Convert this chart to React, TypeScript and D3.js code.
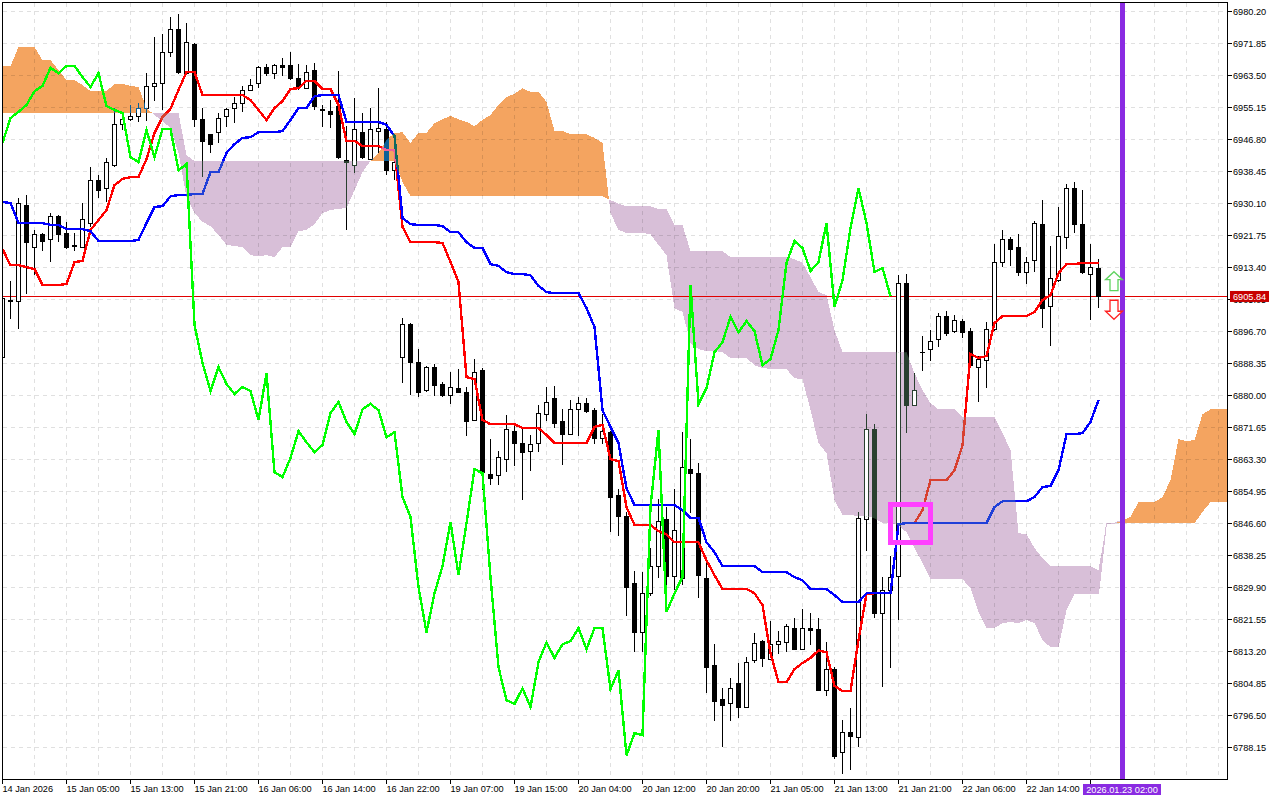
import * as d3 from "d3";
import React from "react";

const opens = [
  6890.0,6904.8,6904.6,6929.7,6918.7,6922.1,6920.8,6926.8,6922.4,6919.1,
  6918.7,6925.0,6936.2,6934.1,6939.9,6950.6,6951.9,6952.7,6954.8,6960.5,
  6961.3,6969.4,6975.4,6964.1,6971.7,6952.1,6948.0,6948.5,6952.7,6955.0,
  6956.1,6959.7,6961.3,6965.7,6964.1,6966.2,6966.2,6962.6,6960.2,6964.7,
  6954.7,6954.2,6955.3,6941.4,6940.1,6948.7,6941.7,6949.0,6949.3,6938.6,
  6890.0,6898.4,6888.5,6881.2,6887.4,6883.0,6880.1,6881.9,6880.9,6873.5,
  6886.4,6859.5,6859.0,6863.4,6870.7,6867.6,6865.5,6867.6,6875.1,6879.3,
  6873.3,6869.9,6876.4,6877.8,6876.2,6868.9,6870.4,6854.0,6848.3,6831.0,
  6818.2,6828.4,6835.5,6847.7,6832.9,6832.3,6860.8,6859.7,6832.3,6809.6,
  6800.7,6799.7,6804.9,6798.7,6810.9,6815.9,6811.2,6814.9,6815.6,6819.3,
  6813.8,6819.3,6819.0,6803.1,6808.6,6786.9,6792.1,6790.8,6847.7,6871.2,
  6823.2,6829.0,6832.9,6909.3,6877.5,6891.3,6891.9,6894.5,6900.7,6896.8,
  6899.4,6896.8,6887.4,6889.2,6897.1,6914.8,6920.8,6918.7,6912.0,6915.1,
  6924.7,6903.3,6909.9,6921.3,6933.9,6924.5,6911.7,6913.2,
];
const highs = [
  6905.7,6909.9,6931.5,6932.3,6923.2,6922.3,6927.6,6927.1,6925.3,6922.4,
  6930.2,6939.6,6937.5,6942.0,6955.0,6953.7,6955.8,6956.3,6964.1,6973.5,
  6974.3,6978.8,6979.5,6977.2,6971.9,6955.0,6948.2,6953.7,6955.0,6957.9,
  6960.8,6962.6,6966.0,6966.5,6966.5,6968.1,6969.6,6966.5,6966.2,6966.8,
  6955.8,6957.1,6964.7,6950.3,6957.6,6953.7,6955.0,6960.2,6951.4,6944.0,
  6900.2,6898.9,6892.1,6887.7,6888.2,6883.5,6886.1,6886.9,6882.2,6889.5,
  6887.2,6868.6,6865.5,6874.9,6872.8,6871.5,6869.7,6877.5,6882.2,6882.4,
  6876.4,6878.8,6879.6,6879.3,6876.7,6875.1,6870.7,6855.6,6849.6,6834.2,
  6833.9,6840.2,6853.0,6850.9,6855.6,6870.4,6868.6,6862.4,6836.5,6815.1,
  6803.6,6806.2,6810.2,6811.7,6818.0,6816.2,6821.1,6818.5,6820.3,6821.9,
  6824.2,6823.2,6821.9,6815.6,6809.1,6795.3,6798.4,6849.6,6875.1,6872.5,
  6832.6,6838.1,6911.4,6911.7,6885.8,6895.5,6897.1,6901.5,6902.0,6901.0,
  6899.9,6897.6,6890.3,6899.2,6919.5,6923.2,6921.3,6922.1,6916.1,6925.5,
  6931.0,6919.0,6929.2,6935.2,6935.7,6933.6,6919.5,6915.6,
];
const lows = [
  6889.8,6899.9,6897.3,6906.5,6911.4,6917.7,6914.8,6920.0,6918.2,6917.7,
  6918.5,6924.0,6931.5,6930.5,6939.6,6949.3,6951.7,6951.4,6951.6,6956.8,
  6954.5,6968.3,6963.9,6963.9,6950.1,6937.0,6943.3,6945.9,6950.1,6951.1,
  6954.0,6959.5,6960.2,6963.4,6962.6,6963.4,6962.4,6959.7,6960.0,6954.5,
  6950.1,6949.8,6941.7,6923.2,6938.0,6941.7,6941.5,6943.3,6937.5,6936.2,
  6883.2,6880.1,6879.6,6881.0,6879.8,6879.6,6877.8,6880.6,6869.4,6873.3,
  6855.3,6856.6,6856.6,6860.0,6861.6,6852.7,6860.3,6865.2,6873.3,6871.5,
  6861.8,6869.7,6869.4,6875.4,6867.3,6867.3,6844.3,6843.3,6822.4,6813.0,
  6813.0,6827.6,6832.3,6829.2,6829.2,6830.5,6849.3,6827.1,6802.3,6795.0,
  6788.2,6795.0,6795.8,6798.5,6810.2,6809.1,6811.0,6812.5,6813.0,6813.5,
  6813.5,6814.9,6802.9,6801.5,6785.1,6781.2,6782.2,6788.2,6839.4,6821.9,
  6803.9,6808.8,6821.4,6870.2,6877.3,6886.4,6889.0,6892.6,6895.5,6896.3,
  6895.0,6887.2,6878.3,6881.9,6896.9,6913.5,6913.8,6911.2,6909.1,6912.2,
  6897.6,6892.9,6909.7,6918.2,6922.4,6911.7,6899.7,6902.8,
];
const closes = [
  6905.2,6904.5,6930.0,6919.8,6922.1,6920.3,6926.6,6922.1,6918.7,6918.9,
  6925.8,6936.0,6933.6,6940.7,6950.8,6951.9,6952.9,6955.0,6960.5,6961.5,
  6969.6,6975.6,6964.4,6972.0,6952.1,6946.4,6945.6,6952.4,6954.5,6956.1,
  6959.7,6961.0,6965.7,6963.9,6966.2,6965.7,6962.6,6960.5,6964.4,6955.5,
  6954.3,6953.4,6942.0,6940.7,6949.5,6942.0,6949.5,6949.8,6938.6,6940.7,
  6898.6,6888.5,6880.9,6887.4,6882.7,6880.1,6882.2,6880.9,6873.3,6886.1,
  6860.0,6858.4,6863.7,6871.0,6867.6,6865.0,6867.1,6875.4,6878.3,6872.8,
  6869.7,6876.4,6878.0,6875.9,6868.9,6870.7,6853.5,6848.3,6830.0,6818.2,
  6828.4,6835.5,6847.0,6832.9,6844.9,6861.1,6859.7,6833.1,6809.1,6800.2,
  6799.2,6803.6,6798.7,6810.4,6815.4,6811.5,6815.1,6815.9,6819.6,6813.8,
  6819.3,6818.8,6803.1,6808.6,6785.9,6792.1,6791.1,6848.0,6871.2,6823.2,
  6829.0,6832.6,6909.1,6877.5,6881.4,6891.1,6894.2,6900.5,6896.3,6899.7,
  6896.5,6887.7,6889.5,6897.3,6914.6,6920.6,6918.2,6912.2,6914.8,6925.0,
  6902.8,6910.4,6921.6,6934.1,6924.5,6912.0,6913.5,6905.84,
];

const tenkan = [
  6918.2,6914.0,6914.0,6913.5,6913.0,6908.8,6908.8,6908.8,6909.1,6914.8,
  6915.1,6923.2,6925.8,6928.4,6934.9,6936.5,6937.0,6937.0,6941.7,6948.5,
  6952.7,6954.8,6959.7,6964.4,6964.4,6958.4,6958.4,6958.4,6958.4,6958.4,
  6958.4,6957.1,6954.5,6951.9,6955.0,6956.8,6960.0,6960.2,6962.1,6962.1,
  6960.0,6960.0,6955.8,6946.4,6946.4,6945.1,6945.1,6945.1,6944.0,6944.0,
  6924.0,6920.0,6920.0,6920.0,6920.0,6919.8,6914.8,6909.6,6884.8,6884.3,
  6873.6,6872.5,6872.5,6872.5,6872.5,6871.5,6871.5,6871.5,6869.7,6867.6,
  6867.6,6867.6,6867.6,6867.6,6871.8,6872.3,6863.4,6862.9,6850.9,6846.2,
  6846.2,6846.2,6844.6,6843.8,6841.7,6841.7,6841.7,6841.7,6837.0,6833.1,
  6829.5,6829.5,6829.5,6829.5,6828.4,6825.3,6812.8,6805.2,6805.2,6808.6,
  6810.2,6811.5,6813.5,6813.0,6804.2,6802.9,6802.9,6816.2,6828.2,6828.4,
  6828.4,6828.4,6846.4,6846.7,6846.7,6850.1,6857.9,6857.9,6857.9,6860.5,
  6867.0,6890.8,6889.8,6890.3,6898.9,6900.7,6900.7,6900.7,6900.7,6901.8,
  6904.9,6906.2,6911.9,6914.3,6914.3,6914.6,6914.6,6914.6,
];
const kijun = [
  6930.5,6930.2,6925.0,6925.0,6925.0,6925.0,6924.5,6924.5,6923.4,6923.4,
  6923.4,6922.9,6920.3,6920.3,6920.3,6920.3,6920.3,6920.6,6925.0,6929.2,
  6929.4,6932.0,6932.3,6932.3,6932.6,6932.6,6938.3,6938.3,6943.3,6945.6,
  6947.2,6947.4,6948.7,6948.7,6948.7,6949.0,6951.9,6955.0,6955.0,6958.1,
  6958.4,6958.4,6958.4,6951.4,6951.4,6951.4,6951.4,6951.4,6950.6,6947.7,
  6926.3,6924.7,6924.5,6924.5,6924.5,6924.2,6922.6,6922.6,6920.0,6918.5,
  6918.5,6914.3,6913.8,6912.2,6911.7,6911.7,6911.4,6908.6,6907.0,6906.7,
  6906.7,6906.7,6906.7,6902.8,6897.9,6876.2,6871.8,6867.6,6855.8,6851.4,
  6851.4,6851.4,6851.4,6851.4,6851.4,6850.1,6848.0,6848.0,6841.7,6839.1,
  6835.5,6835.5,6835.5,6835.5,6835.5,6833.9,6833.9,6833.9,6833.9,6832.6,
  6831.8,6829.5,6829.5,6829.5,6827.9,6826.1,6826.1,6826.1,6828.4,6828.4,
  6828.4,6828.4,6846.4,6846.7,6846.7,6846.7,6846.7,6846.7,6846.7,6846.7,
  6846.7,6846.7,6846.7,6846.7,6850.9,6852.4,6852.4,6852.4,6852.4,6853.5,
  6856.1,6856.4,6860.5,6869.9,6869.9,6870.2,6873.1,6878.8,
];
const chikou = [
  6945.9,6952.4,6954.0,6955.8,6959.4,6960.8,6965.5,6964.1,6966.0,6966.0,
  6963.1,6960.5,6964.1,6955.5,6954.5,6953.7,6942.2,6940.9,6949.3,6942.2,
  6949.5,6949.5,6938.8,6940.4,6898.4,6888.5,6881.2,6887.4,6883.0,6880.4,
  6882.2,6881.2,6873.6,6885.8,6860.0,6858.7,6863.7,6870.7,6867.8,6865.2,
  6867.1,6875.4,6878.3,6873.1,6869.9,6876.4,6877.8,6876.2,6869.1,6870.4,
  6853.5,6848.3,6830.0,6818.2,6828.4,6835.5,6847.0,6833.1,6846.7,6860.8,
  6859.7,6832.6,6809.1,6800.5,6799.5,6803.6,6798.7,6810.4,6815.6,6811.5,
  6815.1,6815.9,6819.3,6813.8,6819.3,6819.3,6803.4,6808.3,6786.1,6791.9,
  6791.4,6850.9,6871.0,6823.5,6828.4,6832.6,6908.8,6877.8,6881.9,6891.3,
  6893.9,6900.5,6896.5,6899.4,6896.8,6887.9,6889.5,6897.1,6914.6,6920.3,
  6918.5,6912.5,6914.8,6925.0,6903.1,6910.1,6923.7,6934.1,6925.0,6912.2,
  6913.3,6905.9,
];
const senkouA = [
  6966.0,6966.0,6970.9,6970.9,6970.9,6967.5,6967.5,6964.9,6962.3,6962.3,
  6961.0,6959.4,6959.4,6959.4,6961.3,6961.3,6960.8,6960.5,6955.0,6953.2,
  6951.6,6949.8,6943.3,6931.8,6927.6,6925.3,6924.2,6921.9,6919.3,6919.0,
  6918.7,6916.6,6916.4,6916.6,6916.1,6918.7,6918.7,6922.9,6923.2,6924.7,
  6927.6,6928.4,6928.7,6928.9,6933.6,6938.3,6941.2,6943.3,6946.7,6948.5,
  6948.7,6945.9,6948.5,6948.5,6951.1,6952.1,6952.9,6952.1,6951.4,6950.3,
  6951.9,6953.2,6955.8,6957.9,6958.7,6960.2,6959.2,6959.2,6956.6,6949.0,
  6949.0,6948.2,6948.2,6948.2,6947.2,6945.9,6927.6,6923.2,6922.4,6922.4,
  6922.4,6922.1,6919.3,6916.6,6902.8,6901.8,6893.7,6892.1,6891.6,6891.6,
  6891.3,6889.8,6889.8,6889.8,6887.9,6887.2,6886.9,6886.9,6886.9,6884.5,
  6884.3,6876.2,6867.6,6865.0,6852.7,6848.8,6848.8,6848.5,6848.5,6848.0,
  6846.7,6846.7,6846.2,6844.3,6840.2,6836.3,6832.1,6832.1,6832.1,6832.1,
  6832.1,6829.7,6823.5,6819.3,6819.3,6820.6,6820.9,6820.6,6821.4,6820.6,
  6816.2,6814.3,6814.3,6824.0,6828.2,6828.2,6828.2,6828.2,6846.7,6846.7,
  6847.5,6848.3,6852.2,6852.2,6852.2,6853.5,6857.9,6868.6,6868.1,6868.4,
  6875.1,6876.4,6876.4,6876.4,
];
const senkouB = [
  6953.7,6953.7,6953.7,6953.7,6953.7,6953.7,6953.7,6953.7,6953.7,6953.7,
  6953.7,6953.7,6953.7,6953.7,6953.7,6953.7,6953.7,6953.7,6953.7,6953.7,
  6953.7,6953.7,6953.7,6942.7,6941.2,6941.2,6941.2,6941.2,6941.2,6941.2,
  6941.2,6941.2,6941.2,6941.2,6941.2,6941.2,6941.2,6941.2,6941.2,6941.2,
  6941.2,6941.2,6941.2,6941.2,6941.2,6941.2,6941.2,6941.2,6941.2,6941.2,
  6935.7,6932.0,6932.0,6932.0,6932.0,6932.0,6932.0,6932.0,6932.0,6932.0,
  6932.0,6932.0,6932.0,6932.0,6932.0,6932.0,6932.0,6932.0,6932.0,6932.0,
  6932.0,6932.0,6932.0,6932.0,6932.0,6932.0,6931.0,6930.0,6929.4,6929.4,
  6929.4,6929.4,6928.6,6928.6,6924.5,6924.5,6917.7,6917.7,6917.7,6917.7,
  6917.7,6916.1,6916.1,6916.1,6916.1,6916.1,6916.1,6916.1,6916.1,6915.6,
  6914.6,6910.9,6907.0,6906.2,6897.1,6891.3,6891.3,6891.3,6891.3,6891.3,
  6891.3,6891.3,6891.3,6891.3,6885.8,6881.4,6878.0,6876.4,6876.4,6876.4,
  6874.4,6874.4,6874.4,6874.4,6874.4,6870.2,6865.8,6844.1,6843.8,6840.2,
  6837.6,6835.5,6835.5,6835.5,6835.5,6835.5,6835.5,6834.4,6846.7,6846.7,
  6846.7,6846.7,6846.7,6846.7,6846.7,6846.7,6846.7,6846.7,6846.7,6846.7,
  6849.6,6852.2,6852.2,6852.2,
];

const priceTicks = [
  6980.2,6971.85,6963.5,6955.15,6946.8,6938.45,6930.1,6921.75,6913.4,6905.05,6896.7,6888.35,
  6880.0,6871.65,6863.3,6854.95,6846.6,6838.25,6829.9,6821.55,6813.2,6804.85,6796.5,6788.15,
];
const timeLabels = [
  "14 Jan 2026","15 Jan 05:00","15 Jan 13:00","15 Jan 21:00","16 Jan 06:00","16 Jan 14:00",
  "16 Jan 22:00","19 Jan 07:00","19 Jan 15:00","20 Jan 04:00","20 Jan 12:00","20 Jan 20:00",
  "21 Jan 05:00","21 Jan 13:00","21 Jan 21:00","22 Jan 06:00","22 Jan 14:00",
];
const lastPrice = 6905.84;
const markerBar = 140;
const markerLabel = "2026.01.23 02:00";
const highlightBars = [111, 116];
const highlightPrices = [6851.5, 6841.7];
const arrowBar = 139;
const arrowUpTip = 6912.3;
const arrowDownTip = 6899.9;
// spans sit on top of each other here, only a hairline of cloud is left
const flatCloudBars = [137, 138, 139, 140];

const width = 1280;
const height = 800;
const plot = { left: 2.5, top: 2.5, right: 1227.5, bottom: 779.5 };
const font = "'Liberation Sans', sans-serif";
const fontSize = 9.2;

const x = d3.scaleLinear().domain([0, 153]).range([2.5, 1226.5]);
const y = d3.scaleLinear().domain([6980.2, 6788.15]).range([11.5, 747.5]);

// extra points where the two spans cross, so each cloud colour ends on the crossing
const cloudPoints = d3.range(senkouA.length).flatMap((i) => {
  const a = senkouA[i];
  const b = senkouB[i];
  const pts = [{ i, a, b }];
  if (i + 1 < senkouA.length) {
    const d0 = a - b;
    const d1 = senkouA[i + 1] - senkouB[i + 1];
    if (d0 * d1 < 0) {
      const t = d0 / (d0 - d1);
      const v = a + (senkouA[i + 1] - a) * t;
      pts.push({ i: i + t, a: v, b: v });
    }
  }
  return pts;
});

type CloudPoint = { i: number; a: number; b: number };
const orangePath = d3.area<CloudPoint>()
  .x((d) => x(d.i))
  .y0((d) => y(d.b))
  .y1((d) => y(Math.max(d.a, d.b)))(cloudPoints)!;
const thistlePath = d3.area<CloudPoint>()
  .x((d) => x(d.i))
  .y0((d) => y(d.a))
  .y1((d) => y(Math.max(d.a, d.b)))(cloudPoints)!;

const linePath = (values: number[]) =>
  d3.line<number>().x((_, i) => x(i)).y((d) => y(d))(values)!;

const flatCloudPath = d3.line<number>().x((b) => x(b)).y((b) => y(senkouA[b]))(flatCloudBars)!;

interface Palette {
  candle: string;
  red: string;
  blue: string;
}

const normal: Palette = { candle: "#000000", red: "#ff0000", blue: "#0000ff" };
const onThistle: Palette = { candle: "#2a4030", red: "#d84030", blue: "#2040d8" };
const onOrange: Palette = { candle: "#0b6097", red: "#f0609a", blue: "#0f6a60" };

const Marks = ({ palette }: { palette: Palette }) => (
  <g shapeRendering="crispEdges">
    {opens.map((o, i) => {
      const c = closes[i];
      const up = c > o;
      const top = y(Math.max(o, c));
      const bottom = y(Math.min(o, c));
      return (
        <g key={i}>
          <line x1={x(i)} x2={x(i)} y1={y(highs[i])} y2={y(lows[i])} stroke={palette.candle} />
          <rect
            x={x(i) - 2}
            y={top}
            width={4}
            height={bottom - top}
            fill={up ? "#ffffff" : palette.candle}
            stroke={palette.candle}
          />
        </g>
      );
    })}
    <path d={linePath(tenkan)} fill="none" stroke={palette.red} strokeWidth={2.4} />
    <path d={linePath(kijun)} fill="none" stroke={palette.blue} strokeWidth={2.4} />
  </g>
);

const arrowPath = (tip: number, dir: number) => {
  const cx = x(arrowBar) - 0.5;
  const tipY = y(tip);
  const p = d3.path();
  p.moveTo(cx, tipY);
  p.lineTo(cx + 8.5, tipY + dir * 8);
  p.lineTo(cx + 4, tipY + dir * 8);
  p.lineTo(cx + 4, tipY + dir * 19);
  p.lineTo(cx - 4, tipY + dir * 19);
  p.lineTo(cx - 4, tipY + dir * 8);
  p.lineTo(cx - 8.5, tipY + dir * 8);
  p.closePath();
  return p.toString();
};

export default function App() {
  const gridX = d3.range(0, 154, 4);
  const tickBars = d3.range(0, 137, 8);

  return (
    <svg
      width={width}
      height={height}
      viewBox={`0 0 ${width} ${height}`}
      style={{ position: "fixed", left: 0, top: 0, background: "#ffffff" }}
    >
      <defs>
        <clipPath id="plot-clip">
          <rect x={plot.left} y={plot.top} width={plot.right - plot.left} height={plot.bottom - plot.top} />
        </clipPath>
        <clipPath id="thistle-clip">
          <path d={thistlePath} />
        </clipPath>
        <clipPath id="orange-clip">
          <path d={orangePath} />
        </clipPath>
      </defs>

      <g clipPath="url(#plot-clip)">
        <g stroke="#e0e0e0" strokeDasharray="4 4" shapeRendering="crispEdges">
          {priceTicks.map((t) => (
            <line key={t} x1={plot.left} x2={plot.right} y1={y(t)} y2={y(t)} />
          ))}
          {gridX.map((b) => (
            <line key={b} x1={x(b)} x2={x(b)} y1={plot.top} y2={plot.bottom} />
          ))}
        </g>

        <g style={{ mixBlendMode: "multiply" }} shapeRendering="crispEdges">
          <path d={orangePath} fill="#f4a460" />
          <path d={thistlePath} fill="#d8bfd8" />
          <path d={flatCloudPath} fill="none" stroke="#d8bfd8" />
        </g>

        <line x1={plot.left} x2={plot.right} y1={y(lastPrice)} y2={y(lastPrice)} stroke="#e00000" shapeRendering="crispEdges" />

        <Marks palette={normal} />
        <g clipPath="url(#thistle-clip)">
          <Marks palette={onThistle} />
        </g>
        <g clipPath="url(#orange-clip)">
          <Marks palette={onOrange} />
        </g>

        <path d={linePath(chikou)} fill="none" stroke="#00ff00" strokeWidth={2.4} shapeRendering="crispEdges" />

        <line x1={x(markerBar)} x2={x(markerBar)} y1={plot.top} y2={plot.bottom} stroke="#8a2be2" strokeWidth={5} shapeRendering="crispEdges" />

        <rect
          x={x(highlightBars[0])}
          y={y(highlightPrices[0])}
          width={x(highlightBars[1]) - x(highlightBars[0])}
          height={y(highlightPrices[1]) - y(highlightPrices[0])}
          fill="none"
          stroke="#ff40ff"
          strokeWidth={4.5}
          shapeRendering="crispEdges"
        />

        <path d={arrowPath(arrowUpTip, 1)} fill="#ffffff" stroke="#5fd35f" strokeWidth={1.3} />
        <path d={arrowPath(arrowDownTip, -1)} fill="#ffffff" stroke="#ff2020" strokeWidth={1.3} />
      </g>

      <rect x={plot.left} y={plot.top} width={plot.right - plot.left} height={plot.bottom - plot.top} fill="none" stroke="#000000" shapeRendering="crispEdges" />

      <g fontFamily={font} fontSize={fontSize} fill="#000000">
        {priceTicks.map((t) => (
          <g key={t}>
            <line x1={plot.right} x2={plot.right + 4} y1={y(t)} y2={y(t)} stroke="#000000" shapeRendering="crispEdges" />
            <text x={1233} y={y(t) + 3.5}>{d3.format(".2f")(t)}</text>
          </g>
        ))}
        {tickBars.map((b) => (
          <line key={b} x1={x(b)} x2={x(b)} y1={plot.bottom} y2={plot.bottom + 4} stroke="#000000" shapeRendering="crispEdges" />
        ))}
        {timeLabels.map((label, i) => (
          <text key={label} x={x(i * 8)} y={791.5}>{label}</text>
        ))}
      </g>

      <rect x={1230} y={y(lastPrice) - 5.5} width={39} height={11} fill="#c80000" />
      <text x={1233} y={y(lastPrice) + 3.5} fontFamily={font} fontSize={fontSize} fill="#ffffff">
        {d3.format(".2f")(lastPrice)}
      </text>

      <rect x={1083} y={784} width={78} height={11} fill="#8a2be2" />
      <text x={1122} y={793} textAnchor="middle" fontFamily={font} fontSize={fontSize} fill="#ffffff">
        {markerLabel}
      </text>
    </svg>
  );
}
